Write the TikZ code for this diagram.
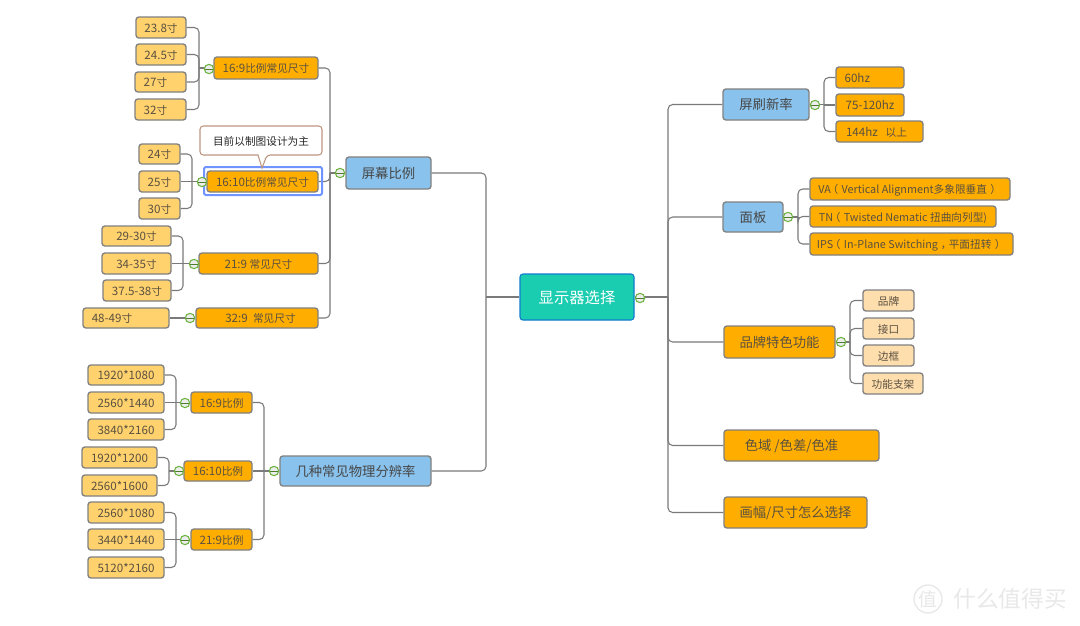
\documentclass[tikz,border=0pt]{standalone}
\usepackage{fontspec}
\setmainfont{Noto Sans CJK SC}
\usetikzlibrary{backgrounds}
\definecolor{cOrange}{HTML}{FFAE00}
\definecolor{cLight}{HTML}{FFD26E}
\definecolor{cPale}{HTML}{FFDEAE}
\definecolor{cBlue}{HTML}{89C2EC}
\definecolor{cTeal}{HTML}{1ACDB0}
\definecolor{cEdge}{HTML}{808080}
\definecolor{cLine}{HTML}{7A7A7A}
\definecolor{cTxt}{HTML}{5A5040}
\definecolor{cGreen}{HTML}{6DB33F}
\definecolor{cSel}{HTML}{6F93FF}
\definecolor{cNote}{HTML}{BC9680}
\definecolor{cWm}{HTML}{E8E8E8}
\newcommand{\cj}[1]{{\fontsize{8pt}{10pt}\selectfont #1}}
\newcommand{\lat}[1]{{\fontsize{8.1pt}{10pt}\selectfont #1}}
\newcommand{\lp}{\cj{\kern-2.5pt（\kern2.5pt}}
\newcommand{\rp}{\cj{\kern2.5pt）\kern-2.5pt}}
\newcommand{\cm}{\cj{\kern2pt，\kern-2pt}}
\tikzset{
  base/.style={draw=cEdge,line width=1pt,rounded corners=2.2pt,inner sep=0pt,text=cTxt,
    text height=8.2pt,text depth=1pt,font=\fontsize{8.7pt}{10pt}\selectfont},
  big/.style={text height=9pt,text depth=1pt,font=\fontsize{10pt}{12pt}\selectfont},
  orange/.style={base,fill=cOrange},
  light/.style={base,fill=cLight},
  pale/.style={base,fill=cPale},
  blue/.style={base,big,fill=cBlue,text=black!72},
  topic/.style={base,big,fill=cOrange},
  root/.style={base,fill=cTeal,draw=cTeal!60!blue,line width=0.8pt,text=white,text height=10.1pt,text depth=1pt,font=\fontsize{11.5pt}{13pt}\selectfont},
  conn/.style={draw=cLine,line width=0.8pt,rounded corners=3.5pt},
  tog/.style={circle,draw=cGreen,line width=0.8pt,fill=black!7,minimum size=7pt,inner sep=0pt,
    path picture={\draw[cGreen!70!black,line width=0.6pt] (path picture bounding box.west) -- (path picture bounding box.east);}},
  sel/.style={draw=cSel,line width=1.5pt,rounded corners=1.5pt,inner sep=0pt},
  notetext/.style={inner sep=0pt,text=black!85,font=\fontsize{8pt}{10pt}\selectfont},
  wm/.style={inner sep=0pt,text=cWm,font=\fontsize{17pt}{20pt}\selectfont}
}
\newcommand{\bx}[7]{%
  \pgfmathsetmacro\bW{(#4-#2)*0.75}%
  \pgfmathsetmacro\bH{(#5-#3)*0.75}%
  \node[#6,minimum width=\bW pt,minimum height=\bH pt] (#1) at ({(#2+#4)/2},{(#3+#5)/2}) {#7};}
% shift text sideways by the given number of px
\newcommand{\sh}[2]{\pgfmathsetmacro\kk{#1*1.5}\kern\kk pt\relax #2}
% stub: parent to its bus, drawn once; link: rounded branch along the bus to a child
\newcommand{\stub}[2]{\draw[conn] (#1) -- (#2 |- #1);}
\newcommand{\link}[3]{\draw[conn] (#2 |- #1) -- (#2 |- #3) -- (#3);}
\begin{document}
\begin{tikzpicture}[x=0.75pt,y=-0.75pt]
\useasboundingbox (0,0) rectangle (1080,625);
% root
\bx{root}{520}{274}{634}{320}{root}{显示器选择}
% left main
\bx{ratio}{346}{157}{431}{189}{blue}{屏幕比例}
\bx{res}{280}{456}{431}{486}{blue}{几种常见物理分辨率}
% ratio children
\bx{ra}{214}{57}{318}{79}{orange}{16:9\cj{比例常见尺寸}}
\bx{selbox}{204}{167}{322}{195}{sel}{}
\bx{rb}{207}{171}{318}{192}{orange}{16:10\cj{比例常见尺寸}}
\bx{rc}{199}{253}{318}{274}{orange}{21:9 \cj{常见尺寸}}
\bx{rd}{196}{308}{318}{328}{orange}{\sh{3.5}{32:9\ \ \cj{常见尺寸}}}
% 16:9 sizes
\bx{a1}{136}{17}{186}{38}{light}{23.8\cj{寸}}
\bx{a2}{136}{44}{186}{65}{light}{24.5\cj{寸}}
\bx{a3}{135}{72}{186}{92}{light}{\sh{-5}{27\cj{寸}}}
\bx{a4}{135}{99}{186}{120}{light}{\sh{-5}{32\cj{寸}}}
% 16:10 sizes
\bx{b1}{139}{144}{180}{164}{light}{24\cj{寸}}
\bx{b2}{139}{171}{180}{192}{light}{25\cj{寸}}
\bx{b3}{139}{198}{180}{219}{light}{30\cj{寸}}
% 21:9 sizes
\bx{c1}{102}{226}{171}{246}{light}{29-30\cj{寸}}
\bx{c2}{102}{253}{171}{274}{light}{34-35\cj{寸}}
\bx{c3}{103}{280}{171}{301}{light}{37.5-38\cj{寸}}
% 32:9 size
\bx{d1}{83}{308}{169}{328}{light}{\sh{-14}{48-49\cj{寸}}}
% note
\draw[draw=cNote,line width=0.8pt,fill=white,rounded corners=2.5pt]
  (200,126) -- (322,126) -- (322,155) -- (267,155) [sharp corners] -- (262,168) -- (258,155) [rounded corners=2.5pt] -- (200,155) -- cycle;
\node[notetext] (note) at (261,141) {目前以制图设计为主};
% resolution children
\bx{ea}{191}{392}{252}{413}{orange}{16:9\cj{比例}}
\bx{eb}{184}{461}{252}{481}{orange}{16:10\cj{比例}}
\bx{ec}{191}{529}{252}{550}{orange}{21:9\cj{比例}}
\bx{f1}{88}{365}{164}{385}{light}{1920*1080}
\bx{f2}{88}{392}{164}{413}{light}{2560*1440}
\bx{f3}{88}{419}{164}{440}{light}{3840*2160}
\bx{g1}{82}{447}{157}{468}{light}{1920*1200}
\bx{g2}{82}{475}{157}{496}{light}{2560*1600}
\bx{h1}{88}{502}{164}{523}{light}{2560*1080}
\bx{h2}{88}{529}{164}{550}{light}{3440*1440}
\bx{h3}{88}{557}{164}{578}{light}{5120*2160}
% right main
\bx{rate}{723}{89}{809}{120}{blue}{屏刷新率}
\bx{panel}{723}{202}{783}{232}{blue}{面板}
\bx{brand}{724}{326}{835}{358}{topic}{品牌特色功能}
\bx{gamut}{724}{430}{879}{461}{topic}{\sh{-10}{色域 /色差/色准}}
\bx{sizeq}{724}{497}{867}{528}{topic}{画幅/尺寸怎么选择}
\bx{k1}{836}{67}{904}{88}{orange}{\sh{-12.7}{60hz}}
\bx{k2}{836}{94}{904}{116}{orange}{75-120hz}
\bx{k3}{836}{121}{923}{142}{orange}{\sh{-3}{144hz\ \ \ \cj{以上}}}
\bx{m1}{810}{178}{1010}{200}{orange}{\sh{-2}{\lat{VA}\lp\lat{Vertical Alignment}\cj{多象限垂直}\rp}}
\bx{m2}{810}{206}{996}{227}{orange}{\lat{TN}\lp\lat{Twisted Nematic }\cj{扭曲向列型)}}
\bx{m3}{810}{233}{1013}{255}{orange}{\sh{-2}{\lat{IPS}\lp\lat{In-Plane Switching}\cm\cj{平面扭转}\rp}}
\bx{n1}{863}{290}{914}{311}{pale}{\cj{品牌}}
\bx{n2}{863}{318}{914}{339}{pale}{\cj{接口}}
\bx{n3}{863}{345}{914}{366}{pale}{\cj{边框}}
\bx{n4}{863}{373}{923}{394}{pale}{\cj{功能支架}}
% toggles
\node[tog] (t0) at (640,298) {};
\node[tog] (t1) at (340,173) {};
\node[tog] (t2) at (274,471) {};
\node[tog] (t3) at (209,69) {};
\node[tog] (t4) at (202,182) {};
\node[tog] (t5) at (194,264) {};
\node[tog] (t6) at (190,318) {};
\node[tog] (t7) at (185,403) {};
\node[tog] (t8) at (179,471) {};
\node[tog] (t9) at (185,540) {};
\node[tog] (t10) at (815,105) {};
\node[tog] (t11) at (788,217) {};
\node[tog] (t12) at (841,342) {};
% bus positions
\coordinate (bLeft) at (486,0);
\coordinate (bRight) at (668,0);
\coordinate (bRatio) at (330,0);
\coordinate (bRes) at (264,0);
\coordinate (bA) at (199,0);
\coordinate (bB) at (192,0);
\coordinate (bC) at (183,0);
\coordinate (bE) at (176,0);
\coordinate (bF) at (169,0);
\coordinate (bK) at (824,0);
\coordinate (bM) at (798,0);
\coordinate (bN) at (850,0);
% watermark
\node[circle,draw=cWm,line width=1pt,minimum size=21pt,inner sep=0pt,text=cWm,font=\fontsize{14pt}{15pt}\selectfont] (wmlogo) at (928,599) {值};
\node[wm] (wmtext) at (1010,599) {什么值得买};
\begin{pgfonlayer}{background}
\fill[white] (0,0) rectangle (1080,625);
\stub{root.west}{bLeft}
\link{root.west}{bLeft}{ratio.east}
\link{root.west}{bLeft}{res.east}
\stub{root.east}{bRight}
\link{root.east}{bRight}{rate.west}
\link{root.east}{bRight}{panel.west}
\link{root.east}{bRight}{brand.west}
\link{root.east}{bRight}{gamut.west}
\link{root.east}{bRight}{sizeq.west}
\stub{ratio.west}{bRatio}
\link{ratio.west}{bRatio}{ra.east}
\link{ratio.west}{bRatio}{rb.east}
\link{ratio.west}{bRatio}{rc.east}
\link{ratio.west}{bRatio}{rd.east}
\stub{ra.west}{bA}
\link{ra.west}{bA}{a1.east}
\link{ra.west}{bA}{a2.east}
\link{ra.west}{bA}{a3.east}
\link{ra.west}{bA}{a4.east}
\stub{rb.west}{bB}
\link{rb.west}{bB}{b1.east}
\draw[conn] (rb.west) -- (b2.east);
\link{rb.west}{bB}{b3.east}
\stub{rc.west}{bC}
\link{rc.west}{bC}{c1.east}
\draw[conn] (bC |- c2.east) -- (c2.east);
\link{rc.west}{bC}{c3.east}
\draw[conn] (rd.west) -- (d1.east);
\stub{res.west}{bRes}
\link{res.west}{bRes}{ea.east}
\draw[conn] (bRes |- eb.east) -- (eb.east);
\link{res.west}{bRes}{ec.east}
\stub{ea.west}{bE}
\link{ea.west}{bE}{f1.east}
\draw[conn] (bE |- f2.east) -- (f2.east);
\link{ea.west}{bE}{f3.east}
\stub{eb.west}{bF}
\link{eb.west}{bF}{g1.east}
\link{eb.west}{bF}{g2.east}
\stub{ec.west}{bE}
\link{ec.west}{bE}{h1.east}
\draw[conn] (bE |- h2.east) -- (h2.east);
\link{ec.west}{bE}{h3.east}
\stub{rate.east}{bK}
\link{rate.east}{bK}{k1.west}
\draw[conn] (bK |- k2.west) -- (k2.west);
\link{rate.east}{bK}{k3.west}
\stub{panel.east}{bM}
\link{panel.east}{bM}{m1.west}
\link{panel.east}{bM}{m2.west}
\link{panel.east}{bM}{m3.west}
\stub{brand.east}{bN}
\link{brand.east}{bN}{n1.west}
\link{brand.east}{bN}{n2.west}
\link{brand.east}{bN}{n3.west}
\link{brand.east}{bN}{n4.west}
\end{pgfonlayer}
\end{tikzpicture}
\end{document}
